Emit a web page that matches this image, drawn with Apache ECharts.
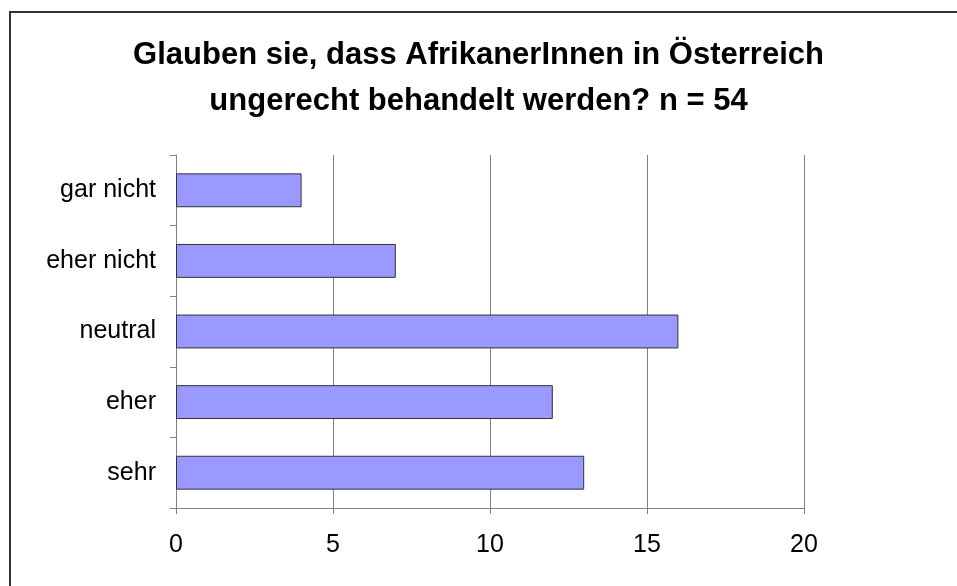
<!DOCTYPE html>
<html lang="de">
<head>
    <meta charset="UTF-8">
    <title>AfrikanerInnen in Österreich</title>
    <script src="https://cdn.jsdelivr.net/npm/echarts@6/dist/echarts.min.js"></script>
</head>
<style>
    body { margin:0; padding:0; background:#fff; }
    #main { width:957px; height:586px; }
</style>
<body>
<div id="main"></div>
<script>
    // Daten (von oben nach unten)
    var categories = ['gar nicht', 'eher nicht', 'neutral', 'eher', 'sehr'];
    var values = [4, 7, 16, 12, 13];
    var xTicks = [0, 5, 10, 15, 20];

    var myChart = echarts.init(document.getElementById('main'));
    var option = {
        animation: false,
        title: {
            text: 'Glauben sie, dass AfrikanerInnen in Österreich\nungerecht behandelt werden? n = 54',
            left: 'center',
            top: 27,
            textStyle: {
                fontFamily: 'Liberation Sans',
                fontWeight: 'bold',
                fontSize: 31,
                lineHeight: 46,
                color: '#000'
            }
        },
        // Rahmen um das ganze Diagramm
        graphic: [{
            type: 'rect',
            shape: { x: 10, y: 12, width: 1000, height: 1000 },
            style: { fill: 'none', stroke: '#333', lineWidth: 2 },
            silent: true
        }],
        grid: { left: 176, right: 153, top: 155, bottom: 78 },
        xAxis: {
            type: 'value',
            min: xTicks[0],
            max: xTicks[xTicks.length - 1],
            interval: 5,
            axisLine: { show: true, lineStyle: { color: '#808080' } },
            axisTick: { show: true, length: 6, lineStyle: { color: '#808080' } },
            splitLine: { show: true, lineStyle: { color: '#808080', width: 1 } },
            axisLabel: { fontFamily: 'Liberation Sans', fontSize: 25, color: '#000', margin: 25 }
        },
        yAxis: {
            type: 'category',
            inverse: true,
            data: categories,
            axisLine: { show: true, lineStyle: { color: '#808080' } },
            axisTick: { show: true, length: 6, lineStyle: { color: '#808080' } },
            axisLabel: { fontFamily: 'Liberation Sans', fontSize: 25, color: '#000', margin: 20 }
        },
        series: [{
            type: 'bar',
            data: values,
            barCategoryGap: '52%',
            itemStyle: { color: '#9999FF', borderColor: '#333', borderWidth: 1 }
        }]
    };
    myChart.setOption(option);
</script>
</body>
</html>
